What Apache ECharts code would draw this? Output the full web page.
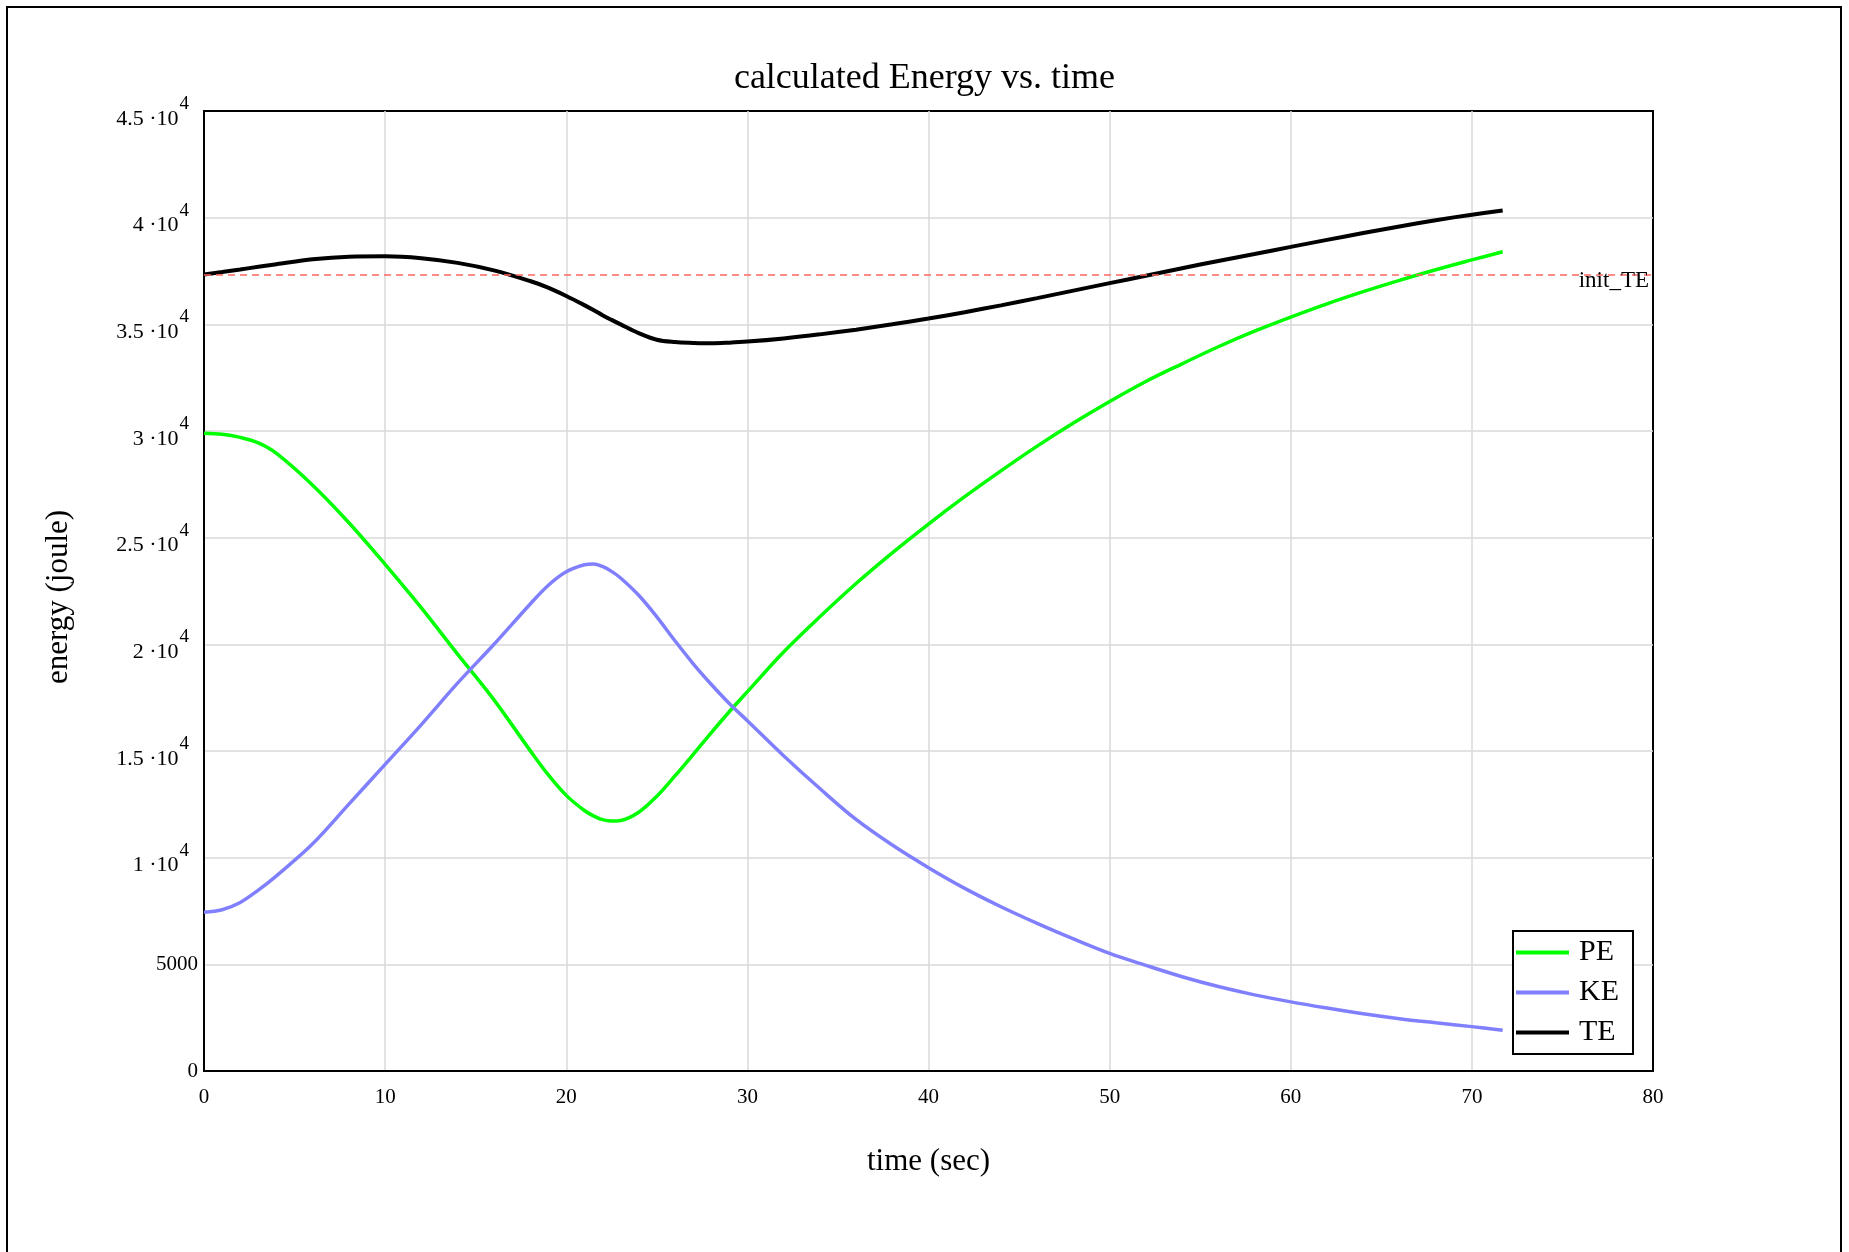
<!DOCTYPE html>
<html>
<head>
<meta charset="utf-8">
<title>calculated Energy vs. time</title>
<script src="https://cdn.jsdelivr.net/npm/echarts@6/dist/echarts.min.js"></script>
<style>
  html, body { margin: 0; padding: 0; background: #fff; }
  #chart { width: 1849px; height: 1252px; }
</style>
</head>
<body>
<div id="chart"></div>
<script>
// Simulation output: time (s) and energies (J)
const timeSec = [0, 1, 2, 3, 4, 6, 8, 10, 12, 14, 16, 18, 19, 20, 21, 21.5, 22, 22.5, 23, 24, 25, 26, 27, 28, 29, 30,
                 32, 34, 36, 38, 40, 42, 44, 46, 48, 50, 52, 54, 56, 58, 60, 62, 64, 66, 68, 70, 71.7];
const peJoule = [29900, 29850, 29700, 29440, 28950, 27460, 25700, 23750, 21710, 19540, 17410, 15030, 13890, 12920,
                 12210, 11960, 11780, 11715, 11740, 12130, 12880, 13830, 14830, 15850, 16840, 17780,
                 19640, 21290, 22850, 24290, 25640, 26920, 28130, 29290, 30370, 31380, 32320, 33150,
                 33950, 34680, 35340, 35960, 36530, 37060, 37560, 38020, 38400];
const keJoule = [7440, 7560, 7900, 8480, 9150, 10650, 12510, 14370, 16240, 18180, 19990, 21880, 22760, 23400,
                 23730, 23770, 23650, 23420, 23110, 22300, 21290, 20170, 19100, 18130, 17230, 16420,
                 14780, 13240, 11790, 10590, 9530, 8560, 7700, 6920, 6190, 5510, 4950, 4420,
                 3960, 3570, 3240, 2950, 2680, 2450, 2260, 2080, 1910];
const teJoule = [37340, 37450, 37570, 37700, 37820, 38050, 38170, 38190, 38100, 37880, 37530, 37030, 36720, 36330,
                 35900, 35670, 35430, 35210, 35000, 34590, 34280, 34170, 34130, 34110, 34140, 34190,
                 34340, 34530, 34750, 35000, 35270, 35570, 35890, 36230, 36580, 36930, 37280, 37630,
                 37970, 38300, 38630, 38960, 39280, 39590, 39880, 40140, 40340];
const initTE = 37340;

// y tick labels: mantissas above 5000 are shown as "m ·10^4"
const yTickLabels = ['0', '5000', '1', '1.5', '2', '2.5', '3', '3.5', '4', '4.5'];

const serif = 'Liberation Serif';
const pairs = arr => timeSec.map((t, i) => [t, arr[i]]);

const chart = echarts.init(document.getElementById('chart'));

chart.setOption({
  animation: false,
  backgroundColor: '#fff',
  textStyle: { fontFamily: serif, color: '#000' },
  title: {
    text: 'calculated Energy vs. time',
    left: 'center',
    top: 56,
    textStyle: { fontFamily: serif, fontSize: 36, fontWeight: 'normal', color: '#000' }
  },
  graphic: [{
    type: 'rect',
    shape: { x: 7, y: 7, width: 1834, height: 1270 },
    style: { fill: 'none', stroke: '#000', lineWidth: 2 },
    silent: true
  }],
  grid: {
    left: 204, top: 111, right: 196, bottom: 181,
    show: true, borderColor: '#000', borderWidth: 2, backgroundColor: 'transparent'
  },
  legend: {
    orient: 'vertical',
    left: 1513,
    top: 931,
    padding: [6, 14, 6, 3],
    icon: 'rect',
    itemWidth: 53,
    itemHeight: 4,
    itemGap: 9,
    selectedMode: false,
    backgroundColor: '#fff',
    borderColor: '#000',
    borderWidth: 2,
    textStyle: { fontFamily: serif, fontSize: 30, lineHeight: 31, color: '#000', padding: [0, 0, 0, 5] },
    data: ['PE', 'KE', 'TE']
  },
  xAxis: {
    type: 'value',
    min: 0, max: 80, interval: 10,
    name: 'time (sec)',
    nameLocation: 'middle',
    nameGap: 75,
    nameTextStyle: { fontFamily: serif, fontSize: 31, color: '#000' },
    axisLine: { show: true, lineStyle: { color: '#000', width: 2 } },
    axisTick: { show: false },
    axisLabel: { fontFamily: serif, fontSize: 21, color: '#000', margin: 16 },
    splitLine: { show: true, showMinLine: false, showMaxLine: false, lineStyle: { color: '#d9d9d9', width: 1.5 } }
  },
  yAxis: {
    type: 'value',
    min: 0, max: 45000, interval: 5000,
    name: 'energy (joule)',
    nameLocation: 'middle',
    nameGap: 130,
    nameRotate: 90,
    nameTextStyle: { fontFamily: serif, fontSize: 31, color: '#000', padding: [0, 12, 0, 0] },
    axisLine: { show: true, lineStyle: { color: '#000', width: 2 } },
    axisTick: { show: false },
    axisLabel: {
      margin: 6,
      fontFamily: serif, fontSize: 21, color: '#000',
      formatter: (v) => {
        const k = Math.round(v / 5000);
        const m = yTickLabels[k];
        if (k < 2) return m;
        return '{b|' + m + ' \u00b710}{s|4}';
      },
      rich: {
        b: { fontFamily: serif, fontSize: 22, color: '#000', lineHeight: 22, padding: [16, 0, 0, 0] },
        s: { fontFamily: serif, fontSize: 19, color: '#000', lineHeight: 18, padding: [0, 9, 14, 1] }
      }
    },
    splitLine: { show: true, showMinLine: false, showMaxLine: false, lineStyle: { color: '#d9d9d9', width: 1.5 } }
  },
  series: [
    {
      name: 'PE', type: 'line', data: pairs(peJoule),
      symbol: 'none', smooth: 0.35,
      lineStyle: { color: '#00ff00', width: 3.5 }, itemStyle: { color: '#00ff00' },
      z: 3
    },
    {
      name: 'KE', type: 'line', data: pairs(keJoule),
      symbol: 'none', smooth: 0.35,
      lineStyle: { color: '#8080ff', width: 3.5 }, itemStyle: { color: '#8080ff' },
      z: 3
    },
    {
      name: 'TE', type: 'line', data: pairs(teJoule),
      symbol: 'none', smooth: 0.35,
      lineStyle: { color: '#000000', width: 4 }, itemStyle: { color: '#000000' },
      z: 4,
      markLine: {
        silent: true,
        symbol: 'none',
        lineStyle: { color: '#ff6666', type: [7, 5], width: 1.5 },
        label: {
          show: true,
          position: 'insideEndBottom',
          distance: [4, -5],
          formatter: 'init_TE',
          fontFamily: serif, fontSize: 23, color: '#000'
        },
        data: [{ yAxis: initTE }]
      }
    }
  ]
});
</script>
</body>
</html>
